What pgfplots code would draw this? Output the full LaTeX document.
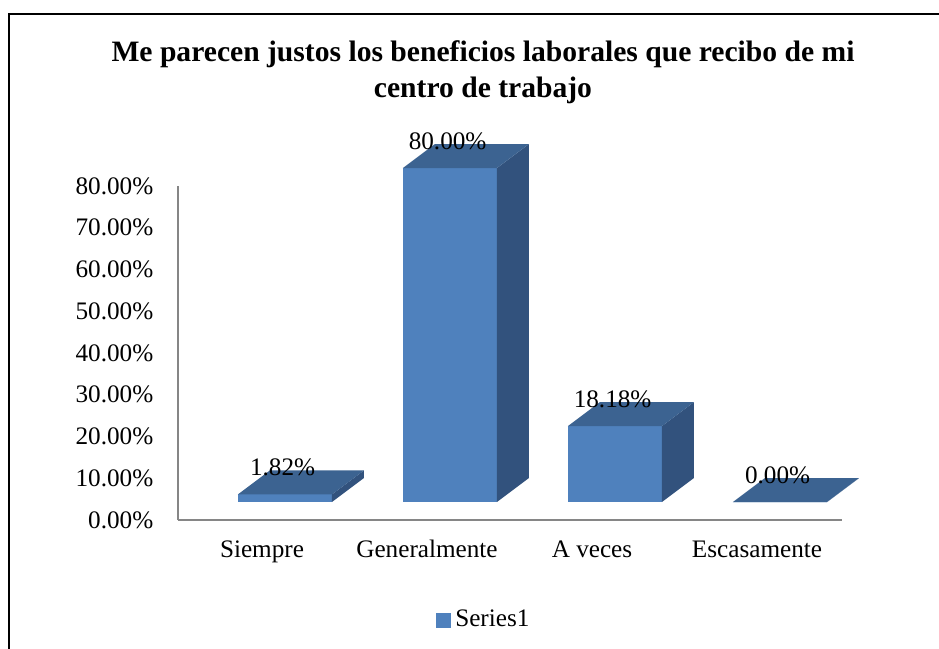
\documentclass[border=0pt]{standalone}
\usepackage{fontspec}
\setmainfont{Liberation Serif}
\usepackage{pgfplots}
\usepackage{pgfplotstable}
\pgfplotsset{compat=1.18}
\definecolor{barfront}{HTML}{4F81BD}
\definecolor{bartop}{HTML}{3C6391}
\definecolor{barside}{HTML}{32527D}
\definecolor{axisgray}{HTML}{868686}

\pgfplotstableread{
i v
0 1.82
1 80
2 18.18
3 0
}\data

% shape of a bar (front face, top face, side face); offsets in axis units
\pgfplotstableread{
px py s
-0.285 0 0
0.285 0 0
0.285 0 1
-0.285 0 1
}\frontface
\pgfplotstableread{
px py s
-0.285 0 1
0.285 0 1
0.479 5.75 1
-0.091 5.75 1
}\topface
\pgfplotstableread{
px py s
0.285 0 0
0.479 5.75 0
0.479 5.75 1
0.285 0 1
}\sideface

\begin{document}
\begin{tikzpicture}
\useasboundingbox (0,0) rectangle (469.5pt,-324.5pt);
\draw[line width=1.3pt] (4.5pt,-340pt) -- (4.5pt,-7pt) -- (480pt,-7pt);
\node[font=\bfseries\fontsize{14.8}{18}\selectfont, align=center] at (241.5pt,-36pt)
  {Me parecen justos los beneficios laborales que recibo de mi\\centro de trabajo};
\begin{axis}[
  at={(89pt,-260pt)}, anchor=south west,
  scale only axis, width=332pt, height=167pt,
  xmin=-0.509, xmax=3.515, ymin=0, ymax=80,
  clip=false,
  axis x line=bottom, axis y line=left,
  axis line style={axisgray, line width=1pt, -},
  xtick={0,1,2,3},
  xticklabels={Siempre,Generalmente,A veces,Escasamente},
  ytick={0,10,...,80},
  major tick length=0pt,
  /pgf/number format/assume math mode=true,
  yticklabel={\pgfmathprintnumber[fixed,fixed zerofill,precision=2]{\tick}\%},
  tick label style={font=\fontsize{12.6}{15}\selectfont, text=black},
  yticklabel style={xshift=-8.8pt},
  xticklabel style={anchor=base, yshift=-18.5pt},
  legend style={at={(0.4623,-0.2994)}, anchor=center, draw=none, fill=none,
    font=\fontsize{12.6}{15}\selectfont},
]
\pgfplotsinvokeforeach{0,1,2,3}{
  \pgfplotstablegetelem{#1}{v}\of\data
  \edef\barv{\pgfplotsretval}
  \addplot[forget plot, fill=barfront, draw=none] table[x expr={#1+0.139+\thisrow{px}}, y expr={4.31+\thisrow{py}+\thisrow{s}*\barv}] {\frontface} -- cycle;
  \addplot[forget plot, fill=barside, draw=none] table[x expr={#1+0.139+\thisrow{px}}, y expr={4.31+\thisrow{py}+\thisrow{s}*\barv}] {\sideface} -- cycle;
  \addplot[forget plot, fill=bartop, draw=none] table[x expr={#1+0.139+\thisrow{px}}, y expr={4.31+\thisrow{py}+\thisrow{s}*\barv}] {\topface} -- cycle;
}
\addplot[forget plot, draw=none, mark=none, point meta=explicit,
  nodes near coords={\pgfmathprintnumber[fixed,fixed zerofill,precision=2]{\pgfplotspointmeta}\%},
  every node near coord/.append style={anchor=center, text=black, font=\fontsize{12.6}{15}\selectfont}]
  table[x expr={\thisrow{i}+0.125}, y expr={\thisrow{v}+10.76}, meta=v] {\data};
\addlegendimage{legend image code/.code={\fill[barfront] (0pt,-3.5pt) rectangle (7pt,3.5pt);}}
\addlegendentry{Series1}
\end{axis}
\end{tikzpicture}
\end{document}
